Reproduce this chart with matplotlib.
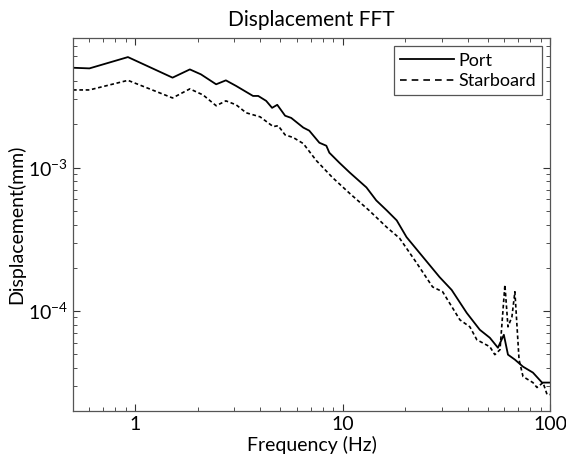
import matplotlib.pyplot as plt
from matplotlib.lines import Line2D

plt.rcParams["font.family"] = ["Lato", "DejaVu Sans"]
plt.rcParams["mathtext.fontset"] = "custom"
plt.rcParams["mathtext.rm"] = "Lato"
plt.rcParams["mathtext.it"] = "Lato:italic"

# values (Hz, mm)
port_freq = [0.5, 0.6, 0.92, 1.51, 1.83, 2.07, 2.45, 2.73, 3.06, 3.69, 3.91,
             4.27, 4.56, 4.83, 5.27, 5.64, 6.45, 6.89, 7.71, 8.33, 8.61, 9.63,
             10.8, 13.0, 14.5, 16.3, 18.2, 20.3, 23.5, 29.3, 33.5, 39.6, 45.8,
             51.2, 56.0, 59.8, 62.6, 67.6, 74.0, 82.6, 91.4, 100]
port_disp = [4.97e-3, 4.92e-3, 5.90e-3, 4.24e-3, 4.84e-3, 4.47e-3, 3.81e-3,
             4.06e-3, 3.71e-3, 3.16e-3, 3.16e-3, 2.92e-3, 2.61e-3, 2.74e-3,
             2.30e-3, 2.22e-3, 1.90e-3, 1.81e-3, 1.49e-3, 1.42e-3, 1.27e-3,
             1.08e-3, 9.23e-4, 7.27e-4, 5.90e-4, 5.02e-4, 4.28e-4, 3.27e-4,
             2.53e-4, 1.72e-4, 1.40e-4, 9.68e-5, 7.38e-5, 6.49e-5, 5.53e-5,
             6.81e-5, 4.95e-5, 4.57e-5, 4.08e-5, 3.71e-5, 3.16e-5, 3.16e-5]

star_freq = [0.5, 0.6, 0.92, 1.51, 1.83, 2.12, 2.45, 2.73, 3.06, 3.42, 3.99,
             4.62, 4.88, 5.27, 5.77, 6.45, 7.45, 8.91, 10.8, 13.4, 16.3, 18.8,
             22.7, 27.1, 30.3, 36.7, 41.0, 44.3, 51.2, 54.1, 57.3, 60.5, 62.6,
             65.4, 67.6, 70.8, 74.0, 82.6, 86.4, 92.4, 96.6, 100]
star_disp = [3.48e-3, 3.48e-3, 4.06e-3, 3.06e-3, 3.54e-3, 3.21e-3, 2.70e-3,
             2.92e-3, 2.74e-3, 2.41e-3, 2.26e-3, 1.93e-3, 1.96e-3, 1.69e-3,
             1.62e-3, 1.47e-3, 1.12e-3, 8.53e-4, 6.60e-4, 5.02e-4, 3.83e-4,
             3.21e-4, 2.16e-4, 1.47e-4, 1.36e-4, 8.66e-5, 7.74e-5, 6.29e-5,
             5.62e-5, 4.95e-5, 5.36e-5, 1.52e-4, 7.74e-5, 9.08e-5, 1.36e-4,
             4.57e-5, 3.48e-5, 3.16e-5, 2.92e-5, 3.16e-5, 2.61e-5, 2.61e-5]


def main():
    fig = plt.figure(figsize=(5.66, 4.65), dpi=100)
    ax = fig.add_axes([0.129, 0.116, 0.843, 0.802])

    ax.loglog(port_freq, port_disp, color="black", linewidth=1.3)
    ax.loglog(star_freq, star_disp, color="black", linewidth=1.2,
              linestyle=(0, (2.2, 1.6)))

    ax.set_xlim(0.5, 100)
    ax.set_ylim(2e-5, 8e-3)
    ax.set_xticks([1, 10, 100])
    ax.set_xticklabels(["1", "10", "100"])

    ax.set_title("Displacement FFT", fontsize=15, pad=9)
    ax.set_xlabel("Frequency (Hz)", fontsize=14, labelpad=2)
    ax.set_ylabel("Displacement(mm)", fontsize=14, labelpad=2)

    ax.tick_params(which="both", direction="in", top=True, right=True,
                   colors="#333333", labelcolor="black")
    ax.tick_params(which="major", length=5, labelsize=14)
    ax.tick_params(which="minor", length=3)
    for s in ax.spines.values():
        s.set_color("#555555")
        s.set_linewidth(0.9)

    handles = [Line2D([], [], color="black", linewidth=1.3),
               Line2D([], [], color="black", linewidth=1.2,
                      linestyle=(0, (4, 3)))]
    leg = ax.legend(handles, ["Port", "Starboard"], loc="upper right",
                    fontsize=13, fancybox=False, framealpha=1,
                    handlelength=3.0, handletextpad=0.2,
                    borderaxespad=0.45, borderpad=0.35, labelspacing=0.25)
    leg.get_frame().set_edgecolor("#555555")
    leg.get_frame().set_linewidth(0.9)

    fig.savefig("out.png", dpi=100)


if __name__ == "__main__":
    main()
